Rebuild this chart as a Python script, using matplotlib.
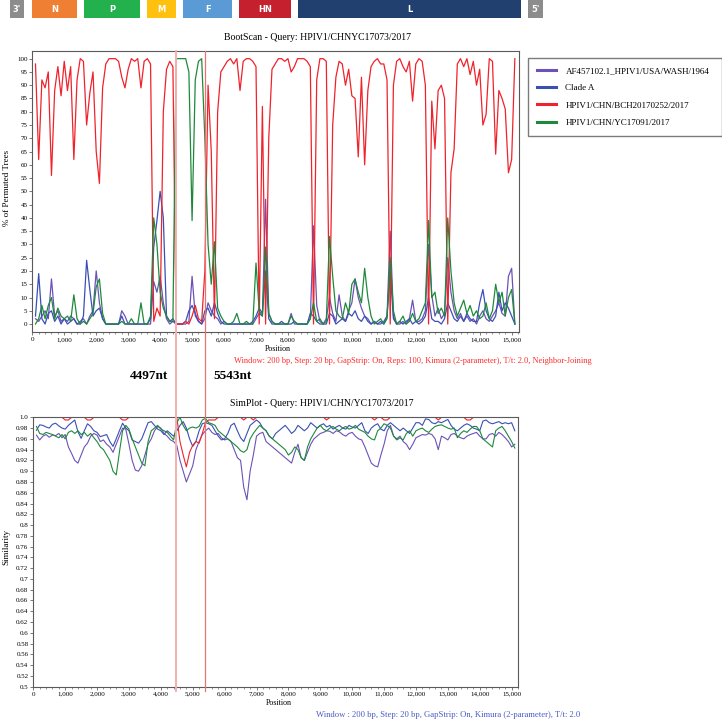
import numpy as np
import matplotlib
matplotlib.use("Agg")
import matplotlib.pyplot as plt
from matplotlib.lines import Line2D
from matplotlib.ticker import MultipleLocator

# window centres (bp), step 100
positions = list(range(100, 15101, 100))

# ---- BootScan (% of permuted trees) ----
boot_af = [2, 1, 3, 5, 2, 17, 3, 5, 1, 2,
           1, 3, 2, 0, 1, 2, 0, 3, 5, 20,
           8, 2, 0, 0, 0, 0, 0, 5, 3, 0,
           0, 0, 0, 0, 0, 0, 0, 16, 12, 18,
           8, 2, 0, 1, 0, 0, 0, 0, 1, 18,
           3, 1, 0, 2, 8, 5, 3, 2, 0, 1,
           0, 0, 0, 0, 0, 0, 0, 0, 0, 2,
           4, 3, 47, 4, 1, 0, 0, 0, 0, 0,
           4, 0, 0, 0, 0, 0, 2, 37, 7, 1,
           0, 2, 10, 4, 1, 11, 3, 1, 5, 8,
           17, 10, 6, 3, 2, 0, 1, 0, 0, 1,
           3, 35, 3, 0, 0, 1, 0, 2, 9, 1,
           1, 2, 5, 30, 11, 3, 6, 2, 4, 25,
           12, 5, 2, 4, 1, 3, 1, 2, 0, 3,
           5, 2, 1, 3, 5, 8, 4, 3, 18, 21,
           0]
boot_cladeA = [3, 19, 2, 0, 4, 5, 1, 3, 0, 2,
               0, 1, 2, 0, 0, 3, 24, 13, 3, 5,
               6, 2, 0, 0, 0, 0, 0, 3, 0, 0,
               0, 0, 0, 0, 0, 0, 2, 29, 39, 50,
               40, 3, 1, 2, 0, 0, 0, 1, 5, 7,
               4, 1, 0, 5, 6, 3, 8, 4, 1, 0,
               0, 0, 0, 0, 0, 0, 0, 0, 1, 3,
               6, 4, 20, 2, 0, 0, 0, 1, 0, 0,
               0, 1, 0, 0, 0, 0, 4, 3, 1, 0,
               0, 0, 4, 3, 0, 1, 2, 1, 4, 3,
               5, 2, 1, 3, 1, 0, 1, 0, 1, 0,
               3, 20, 2, 0, 1, 0, 1, 2, 0, 1,
               0, 1, 3, 10, 2, 1, 1, 0, 2, 8,
               5, 2, 1, 3, 1, 4, 2, 1, 1, 8,
               13, 5, 2, 1, 3, 12, 5, 8, 6, 3,
               0]
boot_bch = [98, 62, 92, 89, 95, 56, 88, 97, 86, 99,
            88, 97, 62, 92, 100, 99, 75, 87, 95, 65,
            53, 89, 98, 100, 100, 100, 99, 93, 89, 96,
            100, 99, 100, 89, 99, 100, 98, 1, 6, 3,
            80, 96, 99, 97, 0, 0, 0, 1, 0, 3,
            7, 2, 1, 20, 90, 65, 2, 80, 95, 97,
            99, 100, 98, 100, 88, 99, 100, 100, 99, 97,
            0, 82, 0, 70, 96, 98, 100, 100, 99, 100,
            95, 97, 100, 100, 100, 99, 97, 0, 92, 100,
            100, 99, 0, 75, 93, 99, 98, 90, 96, 86,
            85, 63, 93, 60, 88, 97, 99, 100, 98, 98,
            92, 0, 90, 99, 100, 97, 95, 99, 84, 98,
            100, 99, 90, 0, 84, 66, 88, 90, 85, 0,
            57, 66, 98, 100, 97, 100, 94, 99, 90, 96,
            75, 79, 100, 99, 64, 88, 85, 81, 57, 62,
            100]
boot_yc = [0, 2, 7, 2, 7, 10, 2, 6, 3, 2,
           3, 1, 11, 2, 0, 1, 0, 2, 4, 14,
           17, 4, 0, 0, 0, 0, 0, 1, 0, 0,
           2, 0, 0, 8, 0, 0, 3, 40, 30, 12,
           6, 3, 1, 1, 100, 100, 100, 100, 95, 39,
           92, 99, 100, 70, 30, 15, 31, 6, 3, 1,
           0, 0, 1, 4, 0, 0, 1, 0, 0, 23,
           5, 3, 29, 4, 1, 0, 0, 0, 0, 0,
           3, 1, 0, 0, 0, 0, 2, 8, 1, 2,
           0, 1, 33, 18, 5, 3, 2, 8, 4, 15,
           17, 12, 8, 21, 10, 3, 0, 1, 2, 0,
           2, 25, 5, 0, 1, 3, 0, 1, 4, 1,
           2, 5, 8, 39, 10, 12, 4, 6, 3, 40,
           20, 8, 3, 6, 9, 4, 7, 3, 5, 2,
           3, 8, 2, 5, 15, 8, 12, 3, 10, 13,
           0]

# ---- SimPlot (similarity) ----
sim_af = [.967, .958, .965, .968, .963, .967, .966, .970, .962, .968,
          .945, .933, .920, .915, .930, .945, .952, .965, .970, .967,
          .955, .958, .950, .945, .935, .950, .965, .980, .978, .950,
          .920, .902, .900, .910, .930, .950, .960, .975, .983, .980,
          .970, .965, .958, .955, .948, .920, .900, .880, .895, .910,
          .940, .955, .968, .975, .980, .972, .968, .970, .962, .958,
          .960, .955, .940, .925, .920, .870, .847, .900, .930, .965,
          .970, .972, .955, .950, .945, .940, .935, .930, .925, .920,
          .915, .935, .950, .925, .920, .935, .950, .960, .965, .970,
          .972, .975, .974, .970, .975, .973, .968, .965, .970, .972,
          .965, .960, .958, .945, .930, .915, .910, .908, .930, .950,
          .975, .985, .965, .960, .965, .955, .950, .940, .950, .962,
          .965, .968, .967, .970, .968, .960, .940, .965, .962, .958,
          .968, .970, .965, .962, .960, .965, .968, .970, .972, .965,
          .960, .960, .968, .970, .965, .972, .968, .962, .955, .945,
          .950]
sim_cladeA = [.976, .986, .985, .982, .980, .987, .989, .984, .980, .978,
              .985, .990, .995, .973, .961, .975, .988, .983, .975, .972,
              .964, .966, .968, .955, .946, .960, .975, .989, .980, .975,
              .958, .955, .952, .960, .975, .990, .992, .985, .978, .975,
              .968, .975, .970, .965, .975, .985, .992, .980, .960, .946,
              .955, .975, .988, .990, .988, .985, .975, .965, .958, .960,
              .970, .985, .989, .975, .962, .955, .970, .985, .990, .995,
              .990, .980, .975, .965, .960, .970, .975, .980, .985, .978,
              .970, .975, .985, .980, .975, .980, .990, .985, .980, .985,
              .988, .982, .985, .978, .982, .985, .980, .978, .985, .982,
              .980, .985, .990, .975, .970, .980, .985, .988, .978, .975,
              .985, .990, .985, .980, .975, .980, .975, .970, .980, .990,
              .990, .985, .997, .996, .990, .988, .992, .990, .993, .996,
              .985, .978, .975, .980, .985, .988, .985, .980, .978, .975,
              .993, .995, .990, .988, .990, .992, .988, .990, .988, .990,
              .975]
sim_bch = [1, 1, 1, 1, 1, 1, 1, 1, 1, .995,
           .995, 1, 1, 1, 1, 1, .995, .995, 1, 1,
           1, 1, 1, 1, 1, 1, 1, .995, .995, 1,
           1, 1, 1, 1, 1, 1, 1, 1, 1, 1,
           1, 1, 1, 1, 1, .955, .930, .908, .935, .948,
           .955, .952, .970, .990, .995, .995, .995, 1, 1, 1,
           1, 1, 1, 1, 1, .995, 1, 1, .995, 1,
           1, 1, 1, 1, 1, 1, 1, 1, 1, 1,
           1, 1, 1, 1, 1, 1, 1, 1, 1, 1,
           1, .995, 1, 1, 1, 1, 1, 1, 1, 1,
           1, 1, 1, 1, 1, 1, .995, 1, 1, .995,
           .995, 1, 1, 1, 1, 1, 1, 1, 1, 1,
           1, 1, 1, 1, 1, 1, .995, 1, 1, 1,
           1, 1, 1, 1, 1, .995, .995, 1, 1, 1,
           1, 1, 1, 1, 1, 1, 1, 1, 1, 1,
           1]
sim_yc = [.983, .970, .968, .972, .970, .968, .965, .962, .968, .960,
          .972, .975, .970, .975, .968, .972, .965, .970, .962, .955,
          .945, .940, .930, .920, .900, .893, .935, .975, .985, .978,
          .960, .945, .930, .915, .910, .955, .975, .980, .985, .978,
          .975, .972, .965, .958, .990, 1.0, .985, .975, .980, .982,
          .980, .983, .995, .998, .990, .988, .985, .975, .970, .965,
          .960, .955, .950, .945, .938, .935, .940, .960, .970, .978,
          .985, .980, .975, .965, .960, .955, .950, .945, .940, .930,
          .935, .945, .940, .925, .920, .945, .960, .970, .980, .985,
          .978, .975, .980, .983, .978, .975, .980, .983, .978, .980,
          .985, .978, .975, .972, .965, .960, .958, .975, .980, .988,
          .985, .980, .965, .958, .962, .958, .970, .975, .965, .975,
          .978, .980, .975, .972, .978, .983, .985, .986, .983, .980,
          .978, .980, .962, .970, .975, .972, .978, .983, .983, .975,
          .960, .955, .950, .945, .975, .980, .983, .975, .965, .955,
          .943]

series_names = ["AF457102.1_HPIV1/USA/WASH/1964", "Clade A",
                "HPIV1/CHN/BCH20170252/2017", "HPIV1/CHN/YC17091/2017"]
series_colors = ["#6C52B8", "#3B4FB5", "#F0222B", "#1D8A3B"]

# gene map (approximate nt extents)
gene_names = ["3'", "N", "P", "M", "F", "HN", "L", "5'"]
gene_start = [-700, -20, 1620, 3590, 4720, 6470, 8310, 15510]
gene_end = [-260, 1400, 3370, 4500, 6250, 8100, 15290, 15980]
gene_colors = ["#8C8C8C", "#EF7F32", "#23B14D", "#FFC10E",
               "#5B9BD5", "#C5202D", "#21406F", "#8C8C8C"]

# breakpoints (drawn position, label)
break_pos = [4490, 5410]
break_labels = ["4497nt", "5543nt"]

W, H = 722, 720


def fx(px):
    return px / W


def fy(py):
    return 1 - py / H


def style_axes(ax):
    for s in ax.spines.values():
        s.set_color("#5a5a5a")
        s.set_linewidth(0.8)
    ax.tick_params(which="major", labelsize=5, length=2.5, width=0.5, pad=1, color="#444444")
    ax.tick_params(which="minor", length=1.4, width=0.4, color="#444444")
    ax.xaxis.set_minor_locator(MultipleLocator(200))


def main():
    plt.rcParams["font.family"] = ["Liberation Serif", "DejaVu Serif"]
    fig = plt.figure(figsize=(W / 100, H / 100), dpi=100)

    # BootScan
    ax1 = fig.add_axes([fx(32.3), fy(332), fx(519 - 32.3), (332 - 50.7) / H])
    for vals, c in zip([boot_af, boot_cladeA, boot_bch, boot_yc], series_colors):
        ax1.plot(positions, vals, color=c, lw=0.9)
    ax1.set_xlim(0, 15230)
    ax1.set_ylim(-3, 103)
    ax1.set_yticks(range(0, 101, 5))
    ax1.set_xticks(range(0, 15001, 1000))
    ax1.set_xticklabels([f"{v:,}" for v in range(0, 15001, 1000)])
    style_axes(ax1)

    # SimPlot
    ax2 = fig.add_axes([fx(33.3), fy(686.7), fx(518 - 33.3), (686.7 - 417.3) / H])
    sims = [sim_af, sim_cladeA, sim_bch, sim_yc]
    for vals, c in zip(sims, series_colors):
        ax2.plot(positions, vals, color=c, lw=0.8)
    ax2.set_xlim(0, 15200)
    ax2.set_ylim(0.5, 1.0)
    yt = np.round(np.arange(0.5, 1.0001, 0.02), 2)
    labs = []
    for v in yt:
        s = ("%.2f" % v).rstrip("0")
        if s.endswith("."):
            s += "0"
        labs.append(s)
    ax2.set_yticks(yt)
    ax2.set_yticklabels(labs)
    ax2.set_xticks(range(0, 15001, 1000))
    ax2.set_xticklabels([f"{v:,}" for v in range(0, 15001, 1000)])
    style_axes(ax2)

    # gene map
    axg = fig.add_axes([fx(32.3), fy(18), fx(519 - 32.3), 18 / H])
    axg.set_xlim(ax1.get_xlim())
    axg.set_ylim(0, 1)
    for name, s, e, c in zip(gene_names, gene_start, gene_end, gene_colors):
        axg.barh(0.5, e - s, left=s, height=1, color=c, clip_on=False)
        axg.text((s + e) / 2, 0.5, name, ha="center", va="center", color="white",
                 fontsize=6, fontweight="bold", family="DejaVu Sans", clip_on=False)
    axg.axis("off")

    # titles and notes
    fig.text(fx(318), fy(37), "BootScan - Query: HPIV1/CHNYC17073/2017", ha="center", va="center", fontsize=7)
    fig.text(fx(322), fy(403), "SimPlot - Query: HPIV1/CHN/YC17073/2017", ha="center", va="center", fontsize=7)
    fig.text(fx(278), fy(349), "Position", ha="center", va="center", fontsize=5.8)
    fig.text(fx(279), fy(703), "Position", ha="center", va="center", fontsize=5.8)
    fig.text(fx(7), fy(188), "% of Permuted Trees", rotation=90, ha="center", va="center", fontsize=6.5)
    fig.text(fx(6.5), fy(547), "Similarity", rotation=90, ha="center", va="center", fontsize=6.5)
    fig.text(fx(413), fy(361),
             "Window: 200 bp, Step: 20 bp, GapStrip: On, Reps: 100, Kimura (2-parameter), T/t: 2.0, Neighbor-Joining",
             ha="center", va="center", fontsize=6, color="#FF2A2A")
    fig.text(fx(448), fy(715),
             "Window : 200 bp, Step: 20 bp, GapStrip: On, Kimura (2-parameter), T/t: 2.0",
             ha="center", va="center", fontsize=6.2, color="#4A5CC4")

    # breakpoint lines through both panels
    fig.canvas.draw()
    inv = fig.transFigure.inverted()
    y_top = ax1.get_position().y1
    y_bot = ax2.get_position().y0 - 4 / H
    for i, (bp, lab) in enumerate(zip(break_pos, break_labels)):
        xd = ax1.transData.transform((bp, 0))[0]
        xf = inv.transform((xd, 0))[0]
        col, lw = ("#F5AEAE", 1.4) if i == 0 else ("#E97272", 0.9)
        fig.add_artist(Line2D([xf, xf], [y_bot, y_top], transform=fig.transFigure, color=col, lw=lw, zorder=5))
        off = -8 / W if i == 0 else 8 / W
        fig.text(xf + off, fy(376), lab, ha="right" if i == 0 else "left", va="center",
                 fontsize=9.5, fontweight="bold")

    # legend
    handles = [Line2D([], [], color=c, lw=2.2) for c in series_colors]
    fig.legend(handles, series_names, loc="upper left",
               bbox_to_anchor=(fx(528), fy(135), fx(194), 77 / H), mode="expand",
               fontsize=6.5, frameon=True, fancybox=False, edgecolor="#5a5a5a",
               handlelength=2.2, handletextpad=1.0, labelspacing=1.0, borderpad=0.95,
               borderaxespad=0)

    fig.savefig("out.png", dpi=100)


if __name__ == "__main__":
    main()
